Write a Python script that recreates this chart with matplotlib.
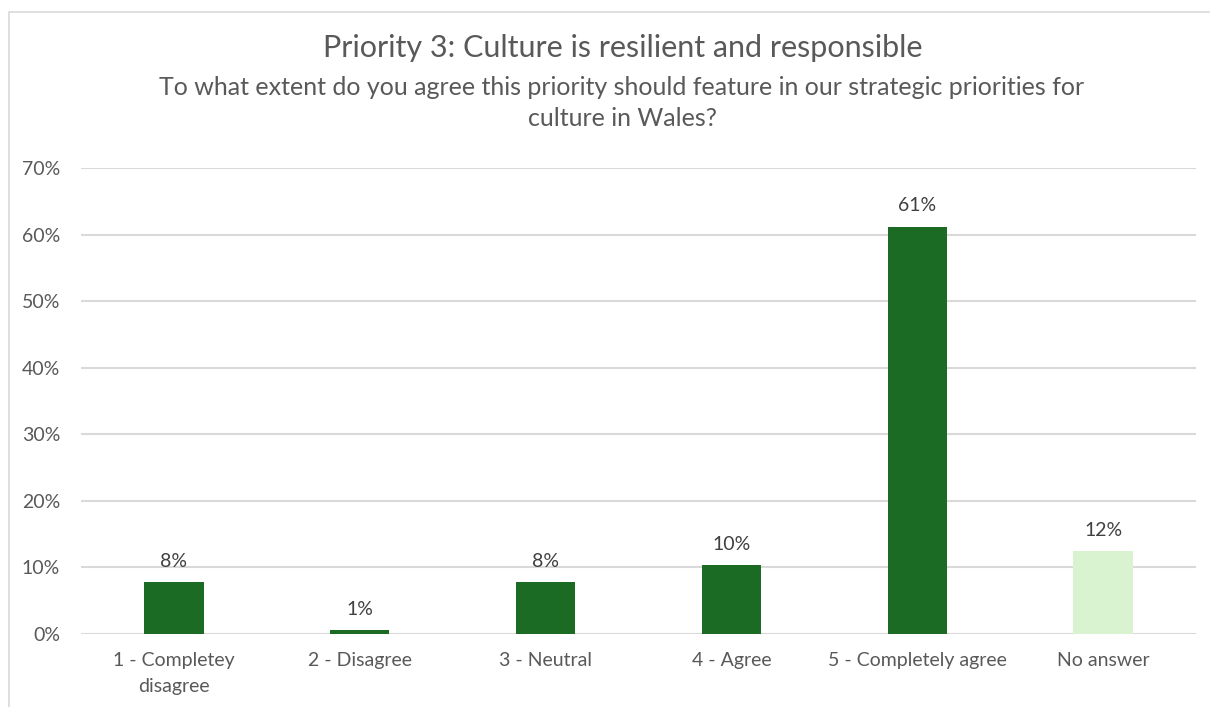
import matplotlib.pyplot as plt
from matplotlib.patches import Rectangle
from matplotlib.ticker import FuncFormatter

categories = ["1 - Completey\ndisagree", "2 - Disagree", "3 - Neutral",
              "4 - Agree", "5 - Completely agree", "No answer"]
shares = [7.75, 0.6, 7.75, 10.35, 61.2, 12.4]
colors = ["#1B6B24"] * 5 + ["#D9F2D0"]

title = "Priority 3: Culture is resilient and responsible"
subtitle = ("To what extent do you agree this priority should feature in our strategic priorities for\n"
            "culture in Wales?")

plt.rcParams['font.family'] = ['Lato', 'DejaVu Sans']
text_col = "#595959"

fig = plt.figure(figsize=(12.1, 7.07), dpi=100)
# light chart frame
fig.patches.append(Rectangle((9 / 1210, -0.05), 1.1, 1 - 12 / 707 + 0.05,
                             transform=fig.transFigure, fill=False,
                             edgecolor="#D9D9D9", linewidth=1.2))

ax = fig.add_axes([81 / 1210, 1 - 634 / 707, (1196 - 81) / 1210, (634 - 168) / 707])
x = range(len(categories))
bars = ax.bar(x, shares, width=0.32, color=colors, zorder=3)
for b, v in zip(bars, shares):
    ax.text(b.get_x() + b.get_width() / 2, v + 3.1, f"{v:.0f}%", ha="center",
            va="center", fontsize=14, color="#404040")

ax.set_xlim(-0.5, len(categories) - 0.5)
ax.set_ylim(0, 70)
ax.set_yticks(range(0, 71, 10))
ax.yaxis.set_major_formatter(FuncFormatter(lambda v, p: f"{v:.0f}%"))
ax.set_xticks(list(x))
ax.set_xticklabels(categories, linespacing=1.65)
ax.tick_params(axis="both", length=0, labelsize=14, colors=text_col)
ax.tick_params(axis="y", pad=15)
ax.tick_params(axis="x", pad=13)
ax.grid(axis="y", color="#D9D9D9", linewidth=1.5, zorder=0)
for s in ax.spines.values():
    s.set_visible(False)

fig.text(623 / 1210, 1 - 48 / 707, title, ha="center", va="center",
         fontsize=22, color=text_col)
fig.text(622 / 1210, 1 - 103 / 707, subtitle, ha="center", va="center",
         fontsize=18, color=text_col, linespacing=1.4)

fig.savefig("out.png", dpi=100, facecolor="white")
